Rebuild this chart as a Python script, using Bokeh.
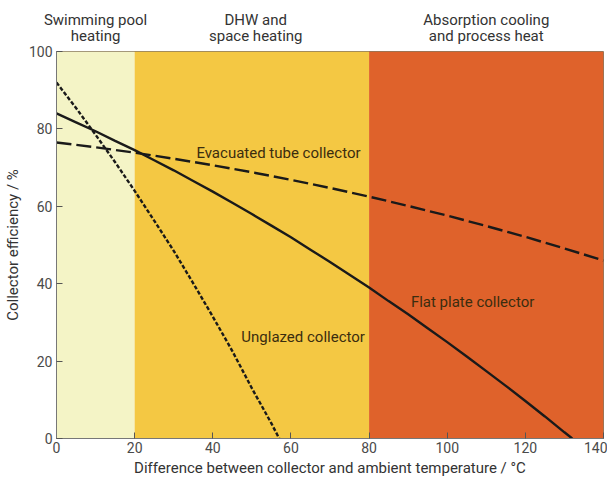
from bokeh.plotting import figure
from bokeh.models import Range1d, Label, FixedTicker, LinearAxis
from bokeh.embed import file_html
from bokeh.resources import INLINE

# Application bands
band_left = [0, 20, 80]
band_right = [20, 80, 140]
band_colors = ["#f4f4c6", "#f4c843", "#df622b"]
band_title_line1 = ["Swimming pool", "DHW and", "Absorption cooling"]
band_title_line2 = ["heating", "space heating", "and process heat"]
band_title_x = [10, 51, 110]

# Collector efficiency curves
unglazed_x = [0, 5, 10, 15, 20, 25, 30, 35, 40, 45, 50, 55, 57]
unglazed_y = [92, 85.4, 78.5, 71.4, 64, 56.3, 48.5, 40.1, 31.5, 22.6, 13, 3.9, 0]

flat_x = [0, 5, 10, 15, 20, 25, 30, 35, 40, 45, 50, 55, 60, 65, 70, 75, 80, 85, 90,
          95, 100, 105, 110, 115, 120, 125, 130, 132]
flat_y = [84, 81.7, 79.4, 76.9, 74.5, 71.9, 69.3, 66.55, 63.8, 60.9, 58, 55, 52, 48.8,
          45.6, 42.3, 39, 35.5, 32.1, 28.5, 24.9, 21.2, 17.4, 13.6, 9.7, 5.7, 1.6, 0]

evac_x = [0, 10, 20, 30, 40, 50, 60, 70, 80, 90, 100, 110, 120, 130, 140]
evac_y = [76.5, 75.25, 73.85, 72.3, 70.6, 68.8, 66.85, 64.74, 62.5, 60.1, 57.6, 54.9,
          52.1, 49.1, 46]

x_ticks = [0, 20, 40, 60, 80, 100, 120, 140]
y_ticks = [0, 20, 40, 60, 80, 100]

FONT = "Roboto"
LABEL_COLOR = "#3b2d0f"
TICK_COLOR = "#4a4a4a"

p = figure(width=607, height=479, output_backend="svg", toolbar_location=None,
           x_range=Range1d(0, 140), y_range=Range1d(0, 100),
           min_border_left=50, min_border_right=4, min_border_top=51, min_border_bottom=37)

p.background_fill_color = "white"
p.border_fill_color = "white"
p.outline_line_color = "#8a7a60"
p.outline_line_width = 1
p.grid.visible = False

p.quad(left=band_left, right=band_right, bottom=0, top=100, fill_color=band_colors, line_color=None)

p.line(unglazed_x, unglazed_y, line_color="#1a1a1a", line_width=2.4, line_dash="4 2")
p.line(flat_x, flat_y, line_color="#1a1a1a", line_width=2.4)
p.line(evac_x, evac_y, line_color="#1a1a1a", line_width=2.4, line_dash="15 5")


def title_axis(lines, standoff):
    ax = LinearAxis(ticker=FixedTicker(ticks=band_title_x),
                    major_label_overrides={x: t for x, t in zip(band_title_x, lines)})
    ax.axis_line_color = None
    ax.major_tick_line_color = None
    ax.minor_tick_line_color = None
    ax.major_label_standoff = standoff
    ax.major_label_text_font = FONT
    ax.major_label_text_font_size = "15px"
    ax.major_label_text_color = "#333333"
    return ax


p.add_layout(title_axis(band_title_line2, 1), "above")
p.add_layout(title_axis(band_title_line1, -11), "above")

p.add_layout(Label(x=35.8, y=73.7, text="Evacuated tube collector", text_baseline="middle",
                   text_font=FONT, text_font_size="15px", text_color=LABEL_COLOR))
p.add_layout(Label(x=47.3, y=26.1, text="Unglazed collector", text_baseline="middle",
                   text_font=FONT, text_font_size="15px", text_color=LABEL_COLOR))
p.add_layout(Label(x=90.7, y=35.3, text="Flat plate collector", text_baseline="middle",
                   text_font=FONT, text_font_size="15px", text_color=LABEL_COLOR))

xax = p.below[0]
yax = p.left[0]
for ax in (xax, yax):
    ax.major_tick_in = 6
    ax.major_tick_out = 0
    ax.minor_tick_line_color = None
    ax.axis_line_color = "#777777"
    ax.major_tick_line_color = "#555555"
    ax.major_label_text_font = FONT
    ax.major_label_text_font_size = "14px"
    ax.major_label_text_color = TICK_COLOR
    ax.axis_label_text_font = FONT
    ax.axis_label_text_font_size = "15px"
    ax.axis_label_text_font_style = "normal"
    ax.axis_label_text_color = "#333333"

xax.ticker = FixedTicker(ticks=x_ticks)
yax.ticker = FixedTicker(ticks=y_ticks)
xax.axis_label = "Difference between collector and ambient temperature / °C"
yax.axis_label = "Collector efficiency / %"
xax.major_label_standoff = 3
xax.axis_label_standoff = 3
yax.major_label_standoff = 4
yax.axis_label_standoff = 4

open("out.html", "w").write(file_html(p, INLINE))
